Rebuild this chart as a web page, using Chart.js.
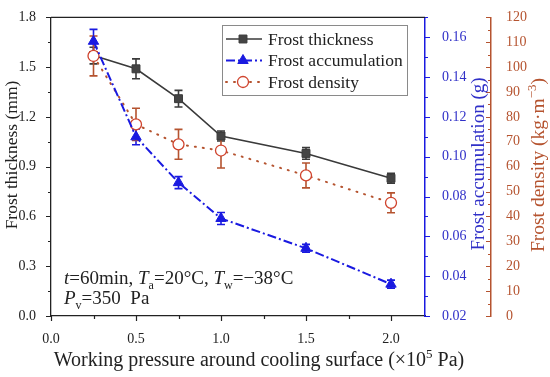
<!DOCTYPE html>
<html lang="en">
<head>
  <meta charset="UTF-8" />
  <title>Frost vs working pressure</title>
  <script src="https://cdn.jsdelivr.net/npm/chart.js"></script>
  <style>
    html, body { margin: 0; padding: 0; background: #fff; }
    #wrap { width: 550px; height: 377px; }
  </style>
</head>
<body>
  <div id="wrap"><canvas id="frostChart"></canvas></div>
  <script>
    // data
    const pressures = [0.25, 0.5, 0.75, 1.0, 1.5, 2.0];
    const thickness = [1.57, 1.49, 1.31, 1.085, 0.98, 0.83];
    const thicknessErr = [0.05, 0.06, 0.05, 0.03, 0.035, 0.03];
    const accumulation = [0.158, 0.110, 0.087, 0.069, 0.054, 0.036];
    const accumulationErr = [0.006, 0.004, 0.003, 0.003, 0.002, 0.002];
    const density = [104.5, 77, 69, 66.5, 56.5, 45.5];
    const densityErr = [8, 6.5, 6, 7, 5, 4];

    // ticks
    const xMajorTicks = [0, 0.5, 1.0, 1.5, 2.0];
    const xMinorTicks = [0.25, 0.75, 1.25, 1.75];
    const thickMajorTicks = [0, 0.3, 0.6, 0.9, 1.2, 1.5, 1.8];
    const thickMinorTicks = [0.15, 0.45, 0.75, 1.05, 1.35, 1.65];
    const accMajorTicks = [0.02, 0.04, 0.06, 0.08, 0.10, 0.12, 0.14, 0.16];
    const accMinorTicks = [0.03, 0.05, 0.07, 0.09, 0.11, 0.13, 0.15, 0.17];
    const denMajorTicks = [0, 10, 20, 30, 40, 50, 60, 70, 80, 90, 100, 110, 120];
    const denMinorTicks = [5, 15, 25, 35, 45, 55, 65, 75, 85, 95, 105, 115];

    const FONT = '"Liberation Serif", "Times New Roman", serif';
    const BLACK = '#222';
    const BLUE = '#1a1ae0';
    const BLUE_TXT = '#3030c8';
    const BROWN = '#b5532f';
    const RED_PT = '#d0442e';
    const GREY = '#3a3a3a';

    function isIn(arr, v) {
      return arr.some(a => Math.abs(a - v) < 1e-9);
    }
    function setTicks(major, minor) {
      return scale => {
        scale.ticks = major.concat(minor).sort((a, b) => a - b).map(v => ({ value: v }));
      };
    }

    // rich text: parts = [[text, style]], style '' | 'i' | 'sub' | 'sup'
    function partFont(style, size) {
      if (style === 'i') return 'italic ' + size + 'px ' + FONT;
      if (style === 'sub' || style === 'sup') return Math.round(size * 0.65) + 'px ' + FONT;
      return size + 'px ' + FONT;
    }
    function richWidth(ctx, parts, size) {
      let w = 0;
      parts.forEach(([t, s]) => { ctx.font = partFont(s, size); w += ctx.measureText(t).width; });
      return w;
    }
    function drawRich(ctx, parts, x, y, size, color, align) {
      ctx.save();
      ctx.fillStyle = color;
      ctx.textBaseline = 'alphabetic';
      ctx.textAlign = 'left';
      let cx = x;
      if (align === 'center') cx = x - richWidth(ctx, parts, size) / 2;
      parts.forEach(([t, s]) => {
        ctx.font = partFont(s, size);
        let dy = 0;
        if (s === 'sub') dy = size * 0.25;
        if (s === 'sup') dy = -size * 0.4;
        ctx.fillText(t, cx, y + dy);
        cx += ctx.measureText(t).width;
      });
      ctx.restore();
    }
    function drawRotated(ctx, parts, x, y, size, color) {
      ctx.save();
      ctx.translate(x, y);
      ctx.rotate(-Math.PI / 2);
      drawRich(ctx, parts, 0, size * 0.35, size, color, 'center');
      ctx.restore();
    }

    // tick marks: dir +1 / -1 away from the axis line
    function drawAxisTicks(ctx, scale, major, minor, edge, dir, color, horizontal) {
      ctx.save();
      ctx.strokeStyle = color;
      ctx.lineWidth = 1.2;
      ctx.beginPath();
      [[major, 5], [minor, 3]].forEach(([vals, len]) => {
        vals.forEach(v => {
          const p = Math.round(scale.getPixelForValue(v)) + 0.5;
          if (horizontal) {
            ctx.moveTo(p, edge); ctx.lineTo(p, edge + dir * len);
          } else {
            ctx.moveTo(edge, p); ctx.lineTo(edge + dir * len, p);
          }
        });
      });
      ctx.stroke();
      ctx.restore();
    }

    const frostDecor = {
      id: 'frostDecor',
      beforeDatasetsDraw(chart) {
        const ctx = chart.ctx;
        const xs = chart.scales.x;
        const sets = [
          { vals: thickness, err: thicknessErr, scale: chart.scales.y, color: GREY },
          { vals: accumulation, err: accumulationErr, scale: chart.scales.yAcc, color: BLUE },
          { vals: density, err: densityErr, scale: chart.scales.yDen, color: BROWN }
        ];
        ctx.save();
        ctx.lineWidth = 1.6;
        sets.forEach(s => {
          ctx.strokeStyle = s.color;
          pressures.forEach((p, i) => {
            const px = xs.getPixelForValue(p);
            const top = s.scale.getPixelForValue(s.vals[i] + s.err[i]);
            const bot = s.scale.getPixelForValue(s.vals[i] - s.err[i]);
            ctx.beginPath();
            ctx.moveTo(px, top); ctx.lineTo(px, bot);
            ctx.moveTo(px - 4, top); ctx.lineTo(px + 4, top);
            ctx.moveTo(px - 4, bot); ctx.lineTo(px + 4, bot);
            ctx.stroke();
          });
        });
        ctx.restore();
      },
      afterDraw(chart) {
        const ctx = chart.ctx;
        const area = chart.chartArea;
        const sc = chart.scales;

        // top frame
        ctx.save();
        ctx.strokeStyle = BLACK;
        ctx.lineWidth = 1.3;
        ctx.beginPath();
        ctx.moveTo(area.left, area.top);
        ctx.lineTo(area.right, area.top);
        ctx.stroke();
        ctx.restore();

        // tick marks
        drawAxisTicks(ctx, sc.x, xMajorTicks, xMinorTicks, area.bottom, 1, BLACK, true);
        drawAxisTicks(ctx, sc.y, thickMajorTicks, thickMinorTicks, area.left, -1, BLACK, false);
        drawAxisTicks(ctx, sc.yAcc, accMajorTicks, accMinorTicks, area.right, 1, BLUE, false);
        drawAxisTicks(ctx, sc.yDen, denMajorTicks, denMinorTicks, sc.yDen.left, -1, BROWN, false);

        // axis titles
        drawRotated(ctx, [['Frost thickness (mm)', '']], 11, 155, 17.5, BLACK);
        drawRotated(ctx, [['Frost accumulation (g)', '']], 477, 164, 19, BLUE_TXT);
        drawRotated(ctx, [['Frost density (kg·m', ''], ['−3', 'sup'], [')', '']], 537, 165, 19.5, BROWN);
        drawRich(ctx, [['Working pressure around cooling surface (×10', ''], ['5', 'sup'], [' Pa)', '']],
          259, 366, 20, BLACK, 'center');

        // conditions note
        drawRich(ctx, [['t', 'i'], ['=60min, ', ''], ['T', 'i'], ['a', 'sub'], ['=20°C, ', ''],
          ['T', 'i'], ['w', 'sub'], ['=−38°C', '']], 64, 284, 19, BLACK, 'left');
        drawRich(ctx, [['P', 'i'], ['v', 'sub'], ['=350  Pa', '']], 64, 304, 19, BLACK, 'left');

        // legend
        const lx = 222, ly = 25, lw = 185, lh = 70;
        ctx.save();
        ctx.fillStyle = '#fff';
        ctx.fillRect(lx, ly, lw, lh);
        ctx.strokeStyle = '#8a8a8a';
        ctx.lineWidth = 1;
        ctx.strokeRect(lx + 0.5, ly + 0.5, lw, lh);
        const rows = [39, 60.5, 82];
        chart.data.datasets.forEach((ds, i) => {
          const y = rows[i];
          ctx.save();
          ctx.strokeStyle = ds.borderColor;
          ctx.lineWidth = ds.borderWidth;
          ctx.setLineDash(ds.borderDash || []);
          ctx.lineCap = ds.borderCapStyle || 'butt';
          ctx.beginPath();
          ctx.moveTo(lx + 4, y);
          ctx.lineTo(lx + 40, y);
          ctx.stroke();
          ctx.restore();
          ctx.fillStyle = ds.pointBackgroundColor;
          ctx.strokeStyle = ds.pointBorderColor;
          ctx.lineWidth = ds.pointBorderWidth || 1;
          Chart.helpers.drawPoint(ctx, {
            pointStyle: ds.pointStyle,
            radius: ds.pointRadius,
            borderWidth: ds.pointBorderWidth || 1,
            rotation: 0
          }, lx + 21, y);
          ctx.fillStyle = BLACK;
          ctx.font = '17.5px ' + FONT;
          ctx.textBaseline = 'middle';
          ctx.fillText(ds.label, lx + 46, y + 1);
        });
        ctx.restore();
      }
    };

    const tickFont = { family: FONT, size: 14 };

    new Chart(document.getElementById('frostChart'), {
      type: 'line',
      data: {
        datasets: [
          {
            label: 'Frost thickness',
            data: pressures.map((p, i) => ({ x: p, y: thickness[i] })),
            yAxisID: 'y',
            order: 3,
            borderColor: GREY,
            borderWidth: 1.6,
            pointStyle: 'rect',
            pointRadius: 5.6,
            pointBackgroundColor: '#444',
            pointBorderColor: GREY,
            pointBorderWidth: 1
          },
          {
            label: 'Frost accumulation',
            data: pressures.map((p, i) => ({ x: p, y: accumulation[i] })),
            yAxisID: 'yAcc',
            order: 1,
            borderColor: BLUE,
            borderWidth: 2,
            borderDash: [9, 3, 2, 3],
            pointStyle: 'triangle',
            pointRadius: 6,
            pointBackgroundColor: BLUE,
            pointBorderColor: BLUE,
            pointBorderWidth: 1
          },
          {
            label: 'Frost density',
            data: pressures.map((p, i) => ({ x: p, y: density[i] })),
            yAxisID: 'yDen',
            order: 2,
            borderColor: BROWN,
            borderWidth: 2,
            borderDash: [1, 7],
            borderCapStyle: 'round',
            pointStyle: 'circle',
            pointRadius: 5.5,
            pointBackgroundColor: '#fff',
            pointBorderColor: RED_PT,
            pointBorderWidth: 1.3
          }
        ]
      },
      options: {
        responsive: true,
        maintainAspectRatio: false,
        animation: false,
        layout: { padding: { top: 14, left: 0, right: 0, bottom: 0 } },
        plugins: {
          legend: { display: false },
          tooltip: { enabled: false }
        },
        scales: {
          x: {
            type: 'linear',
            min: 0,
            max: 2.2,
            afterBuildTicks: setTicks(xMajorTicks, xMinorTicks),
            afterFit: s => { s.height = 61; },
            ticks: {
              autoSkip: false,
              maxRotation: 0,
              color: BLACK,
              font: tickFont,
              padding: 7,
              callback: v => isIn(xMajorTicks, v) ? v.toFixed(1) : ''
            },
            grid: { display: false },
            border: { color: BLACK, width: 1.3 }
          },
          y: {
            position: 'left',
            min: 0,
            max: 1.8,
            afterBuildTicks: setTicks(thickMajorTicks, thickMinorTicks),
            afterFit: s => { s.width = 51; },
            ticks: {
              autoSkip: false,
              color: BLACK,
              font: tickFont,
              padding: 7,
              callback: v => isIn(thickMajorTicks, v) ? v.toFixed(1) : ''
            },
            grid: { display: false },
            border: { color: BLACK, width: 1.3 }
          },
          yAcc: {
            position: 'right',
            weight: 0,
            min: 0.02,
            max: 0.17,
            afterBuildTicks: setTicks(accMajorTicks, accMinorTicks),
            afterFit: s => { s.width = 66; },
            ticks: {
              autoSkip: false,
              color: BLUE_TXT,
              font: tickFont,
              padding: 9,
              callback: v => isIn(accMajorTicks, v) ? v.toFixed(2) : ''
            },
            grid: { display: false },
            border: { color: BLUE, width: 1.5 }
          },
          yDen: {
            position: 'right',
            weight: 1,
            min: 0,
            max: 120,
            afterBuildTicks: setTicks(denMajorTicks, denMinorTicks),
            afterFit: s => { s.width = 59; },
            ticks: {
              autoSkip: false,
              color: BROWN,
              font: tickFont,
              padding: 7,
              callback: v => isIn(denMajorTicks, v) ? String(v) : ''
            },
            grid: { display: false },
            border: { color: BROWN, width: 1.5 }
          }
        }
      },
      plugins: [frostDecor]
    });
  </script>
</body>
</html>
